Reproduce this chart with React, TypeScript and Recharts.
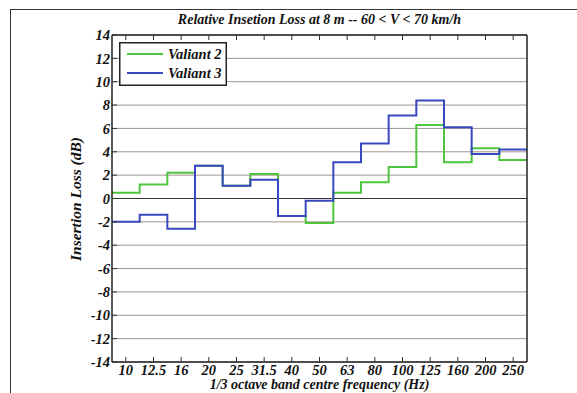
import { LineChart, Line, XAxis, YAxis, CartesianGrid, ReferenceLine } from "recharts";

const BANDS = ["10", "12.5", "16", "20", "25", "31.5", "40", "50", "63", "80", "100", "125", "160", "200", "250"];
const VALIANT_2 = [0.5, 1.2, 2.2, 2.8, 1.1, 2.1, -1.5, -2.1, 0.5, 1.4, 2.7, 6.3, 3.1, 4.3, 3.3];
const VALIANT_3 = [-2.0, -1.4, -2.6, 2.8, 1.1, 1.6, -1.5, -0.2, 3.1, 4.7, 7.1, 8.4, 6.1, 3.8, 4.2];
const Y_TICKS = [-14, -12, -10, -8, -6, -4, -2, 0, 2, 4, 6, 8, 10, 12, 14];

const GREEN = "#4fc43e";
const BLUE = "#3a48c0";
const FONT = "'Liberation Serif', 'Times New Roman', serif";

// stairs: each band held from its lower edge to the next one, last band closed at right edge
const rows = BANDS.map((_, i) => ({ x: i - 0.5, v2: VALIANT_2[i], v3: VALIANT_3[i] }));
rows.push({ x: BANDS.length - 0.5, v2: VALIANT_2[VALIANT_2.length - 1], v3: VALIANT_3[VALIANT_3.length - 1] });

const tickStyle = { fontSize: 14.5, fontFamily: FONT, fontWeight: 700, fontStyle: "italic", fill: "#111" };
const bandIdx = BANDS.map((_, i) => i);

function LegendBox() {
  const items = [
    { name: "Valiant 2", color: GREEN },
    { name: "Valiant 3", color: BLUE },
  ];
  return (
    <svg width={108} height={44} style={{ position: "absolute", left: 119, top: 42 }}>
      <rect x={0.75} y={0.75} width={106.5} height={42.5} fill="#fff" stroke="#222" strokeWidth={1.5} />
      {items.map((it, i) => (
        <g key={it.name}>
          <line x1={8} x2={44} y1={12 + i * 19} y2={12 + i * 19} stroke={it.color} strokeWidth={2} />
          <text x={49} y={16.5 + i * 19} style={{ ...tickStyle, fontSize: 14.5 }}>
            {it.name}
          </text>
        </g>
      ))}
    </svg>
  );
}

const labelCss = { fontFamily: FONT, fontWeight: 700, fontStyle: "italic", color: "#111", whiteSpace: "nowrap" } as const;

export default function App() {
  return (
    <div style={{ position: "absolute", left: 0, top: 0, width: 577, height: 393, background: "#fff", overflow: "hidden" }}>
      <div style={{ position: "absolute", left: 10, top: 9, width: 567, height: 390, borderTop: "1.5px solid #333", borderLeft: "1.5px solid #333" }} />
      <div style={{ ...labelCss, position: "absolute", left: 112, width: 415, top: 12, textAlign: "center", fontSize: 14 }}>
        Relative Insetion Loss at 8 m -- 60 &lt; V &lt; 70 km/h
      </div>
      <div style={{ ...labelCss, position: "absolute", left: 76, top: 199, transform: "translate(-50%, -50%) rotate(-90deg)", fontSize: 15.5 }}>
        Insertion Loss (dB)
      </div>
      <div style={{ ...labelCss, position: "absolute", left: 112, width: 415, top: 377, textAlign: "center", fontSize: 14 }}>
        1/3 octave band centre frequency (Hz)
      </div>
      <LineChart width={577} height={393} data={rows} margin={{ top: 34, right: 49, bottom: 11, left: 82 }} style={{ position: "absolute", left: 0, top: 0 }}>
        <CartesianGrid vertical={false} stroke="#a39393" strokeWidth={1} />
        <XAxis
          dataKey="x"
          type="number"
          domain={[-0.5, 14.5]}
          ticks={bandIdx}
          interval={0}
          tickFormatter={(v) => BANDS[v as number]}
          height={20}
          tickSize={-5}
          tickMargin={8}
          tick={tickStyle}
          axisLine={{ stroke: "#222", strokeWidth: 1.5 }}
          tickLine={{ stroke: "#333" }}
        />
        <XAxis
          xAxisId="top"
          dataKey="x"
          type="number"
          orientation="top"
          domain={[-0.5, 14.5]}
          ticks={bandIdx}
          interval={0}
          height={1}
          tickSize={-5}
          tick={() => <g />}
          axisLine={{ stroke: "#222", strokeWidth: 1.5 }}
          tickLine={{ stroke: "#333" }}
        />
        <YAxis
          domain={[-14, 14]}
          ticks={Y_TICKS}
          interval={0}
          width={30}
          tickSize={-5}
          tickMargin={7}
          tick={tickStyle}
          axisLine={{ stroke: "#222", strokeWidth: 1.5 }}
          tickLine={{ stroke: "#333" }}
        />
        <YAxis
          yAxisId="r"
          orientation="right"
          domain={[-14, 14]}
          ticks={Y_TICKS}
          interval={0}
          width={1}
          tickSize={-5}
          tick={() => <g />}
          axisLine={{ stroke: "#222", strokeWidth: 1.5 }}
          tickLine={{ stroke: "#333" }}
        />
        <ReferenceLine y={0} stroke="#333" strokeWidth={1.2} />
        <Line type="stepAfter" dataKey="v2" name="Valiant 2" stroke={GREEN} strokeWidth={2} dot={false} isAnimationActive={false} />
        <Line type="stepAfter" dataKey="v3" name="Valiant 3" stroke={BLUE} strokeWidth={2} dot={false} isAnimationActive={false} />
      </LineChart>
      <LegendBox />
    </div>
  );
}
